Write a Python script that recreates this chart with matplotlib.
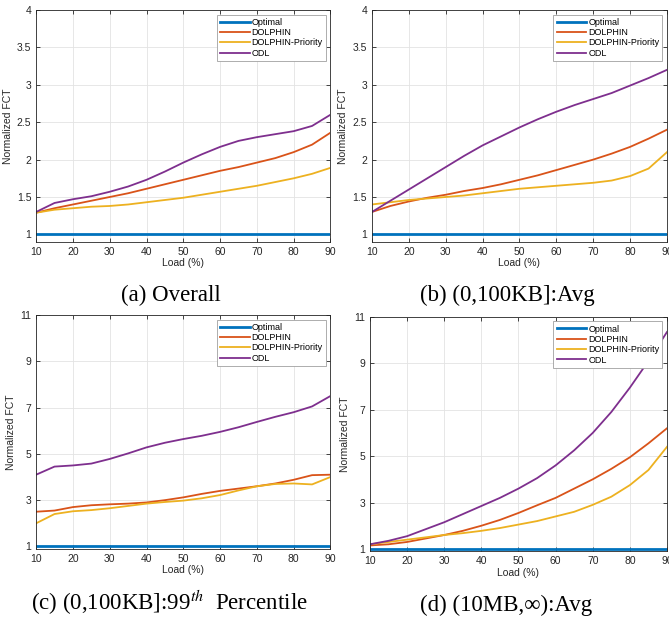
import matplotlib
matplotlib.use("Agg")
import matplotlib.pyplot as plt

plt.rcParams['font.family'] = 'Liberation Sans'
plt.rcParams['mathtext.fontset'] = 'stix'

load = [10, 15, 20, 25, 30, 35, 40, 45, 50, 55, 60, 65, 70, 75, 80, 85, 90]
names = ['Optimal', 'DOLPHIN', 'DOLPHIN-Priority', 'ODL']
colors = ['#0072BD', '#D95319', '#EDB120', '#7E2F8E']

# (a) Overall
a_opt = [1] * 17
a_dol = [1.29, 1.35, 1.40, 1.45, 1.50, 1.55, 1.61, 1.67, 1.73, 1.79, 1.85, 1.90, 1.96, 2.02, 2.10, 2.20, 2.36]
a_pri = [1.29, 1.33, 1.35, 1.37, 1.38, 1.40, 1.43, 1.46, 1.49, 1.53, 1.57, 1.61, 1.65, 1.70, 1.75, 1.81, 1.89]
a_odl = [1.30, 1.42, 1.47, 1.51, 1.57, 1.64, 1.73, 1.84, 1.96, 2.07, 2.17, 2.25, 2.30, 2.34, 2.38, 2.45, 2.60]

# (b) (0,100KB] avg
b_opt = [1] * 17
b_dol = [1.30, 1.38, 1.44, 1.49, 1.53, 1.58, 1.62, 1.67, 1.73, 1.79, 1.86, 1.93, 2.00, 2.08, 2.17, 2.28, 2.40]
b_pri = [1.40, 1.43, 1.46, 1.48, 1.50, 1.52, 1.55, 1.58, 1.61, 1.63, 1.65, 1.67, 1.69, 1.72, 1.78, 1.88, 2.10]
b_odl = [1.30, 1.45, 1.60, 1.75, 1.90, 2.05, 2.19, 2.31, 2.43, 2.54, 2.64, 2.73, 2.81, 2.89, 2.99, 3.09, 3.20]

# (c) (0,100KB] 99th
c_opt = [1] * 17
c_dol = [2.5, 2.55, 2.7, 2.78, 2.82, 2.85, 2.9, 3.0, 3.12, 3.27, 3.4, 3.5, 3.6, 3.72, 3.88, 4.08, 4.1]
c_pri = [2.0, 2.4, 2.52, 2.57, 2.65, 2.75, 2.85, 2.92, 2.98, 3.08, 3.22, 3.42, 3.6, 3.7, 3.72, 3.68, 4.0]
c_odl = [4.1, 4.45, 4.5, 4.58, 4.78, 5.02, 5.28, 5.48, 5.64, 5.78, 5.95, 6.15, 6.38, 6.6, 6.8, 7.05, 7.5]

# (d) (10MB,inf) avg
d_opt = [1] * 17
d_dol = [1.15, 1.2, 1.3, 1.45, 1.6, 1.78, 2.0, 2.25, 2.55, 2.88, 3.2, 3.6, 4.0, 4.45, 4.95, 5.55, 6.2]
d_pri = [1.2, 1.3, 1.4, 1.5, 1.6, 1.68, 1.78, 1.9, 2.05, 2.2, 2.4, 2.6, 2.9, 3.25, 3.75, 4.4, 5.4]
d_odl = [1.2, 1.35, 1.55, 1.85, 2.15, 2.5, 2.85, 3.2, 3.6, 4.05, 4.6, 5.25, 6.0, 6.9, 7.95, 9.1, 10.35]

fig = plt.figure(figsize=(6.69, 6.25), dpi=100)

panels = [
    ([0.054, 0.613, 0.440, 0.371], [a_opt, a_dol, a_pri, a_odl], (0.9, 4), [1, 1.5, 2, 2.5, 3, 3.5, 4]),
    ([0.556, 0.613, 0.441, 0.371], [b_opt, b_dol, b_pri, b_odl], (0.9, 4), [1, 1.5, 2, 2.5, 3, 3.5, 4]),
    ([0.054, 0.122, 0.440, 0.374], [c_opt, c_dol, c_pri, c_odl], (0.9, 11), [1, 3, 5, 7, 9, 11]),
    ([0.553, 0.118, 0.444, 0.375], [d_opt, d_dol, d_pri, d_odl], (0.9, 11), [1, 3, 5, 7, 9, 11]),
]

for rect, series, ylim, yt in panels:
    ax = fig.add_axes(rect)
    for i, ys in enumerate(series):
        lw = 2.0 if i == 0 else 1.3
        ax.plot(load, ys, color=colors[i], lw=lw, label=names[i])
    ax.set_xlim(10, 90)
    ax.set_ylim(*ylim)
    ax.set_xticks(range(10, 91, 10))
    ax.set_yticks(yt)
    ax.set_yticklabels([('%g' % v) for v in yt])
    ax.grid(True, color='#e3e3e3', lw=0.6)
    ax.tick_params(direction='in', top=True, right=True, labelsize=7.5, length=3, width=0.6, colors='#262626')
    for s in ax.spines.values():
        s.set_linewidth(0.6)
        s.set_color('#262626')
    ax.set_xlabel('Load (%)', fontsize=7.5, color='#262626', labelpad=1)
    ax.set_ylabel('Normalized FCT', fontsize=7.5, color='#262626', labelpad=3)
    leg = ax.legend(loc='upper right', fontsize=6.5, handlelength=3.3, handletextpad=0.2,
                    borderpad=0.35, labelspacing=0.15, fancybox=False, framealpha=1,
                    borderaxespad=0.5)
    leg.get_frame().set_edgecolor('#a0a0a0')
    leg.get_frame().set_linewidth(0.6)

cap = dict(fontsize=16.5, family='Liberation Serif', ha='center', va='center')
fig.text(0.256, 0.528, '(a) Overall', **cap)
fig.text(0.758, 0.528, '(b) (0,100KB]:Avg', **cap)
fig.text(0.253, 0.035, '(c) (0,100KB]:99$^{th}$  Percentile', **cap)
fig.text(0.757, 0.032, '(d) (10MB,\u221e):Avg', **cap)

fig.savefig('out.png', dpi=100)
